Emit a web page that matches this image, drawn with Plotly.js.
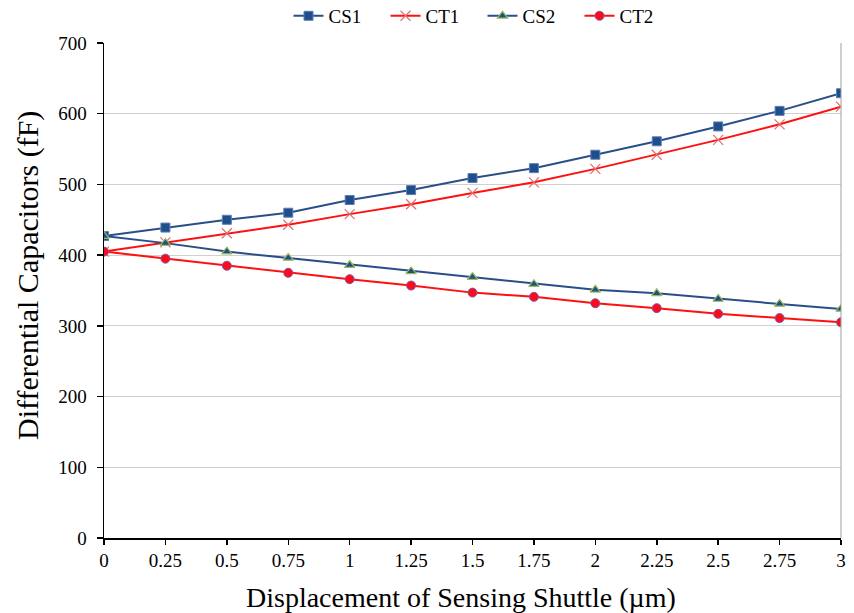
<!DOCTYPE html>
<html>
<head>
<meta charset="utf-8">
<script src="https://cdn.plot.ly/plotly-3.0.1.min.js"></script>
<style>html,body{margin:0;padding:0;background:#fff;}#chart{width:854px;height:613px;}</style>
</head>
<body>
<div id="chart"></div>
<script>
const displacement = [0, 0.25, 0.5, 0.75, 1, 1.25, 1.5, 1.75, 2, 2.25, 2.5, 2.75, 3];
const xTickLabels = ["0", "0.25", "0.5", "0.75", "1", "1.25", "1.5", "1.75", "2", "2.25", "2.5", "2.75", "3"];
const CS1 = [427, 439, 450, 460, 478, 492, 509, 523, 542, 561, 582, 604, 629];
const CT1 = [405, 418, 431, 443, 458, 472, 488, 503, 522, 542, 563, 585, 610];
const CS2 = [427, 417, 405, 396, 386, 377, 369, 359, 351, 346, 338, 331, 324];
const CT2 = [405, 395, 385, 375, 366, 357, 347, 341, 332, 325, 317, 311, 305];
const xTitle = 'Displacement of Sensing Shuttle (µm)';
const yTitle = 'Differential Capacitors (fF)';

const blue = '#2a4f88';
const red = '#ff1010';
const traces = [
  {name: 'CS1', x: displacement, y: CS1, mode: 'lines+markers',
   line: {color: blue, width: 2},
   marker: {symbol: 'square', size: 9, color: '#1f4e8c', line: {color: '#5b7fb5', width: 1}}},
  {name: 'CT1', x: displacement, y: CT1, mode: 'lines+markers',
   line: {color: red, width: 2},
   marker: {symbol: 'x-thin', size: 10, color: '#e07070', line: {color: '#e07070', width: 1.2}}},
  {name: 'CS2', x: displacement, y: CS2, mode: 'lines+markers',
   line: {color: blue, width: 2},
   marker: {symbol: 'triangle-up', size: 9, color: '#1f4e8c', line: {color: '#9bbb59', width: 1.2}}},
  {name: 'CT2', x: displacement, y: CT2, mode: 'lines+markers',
   line: {color: red, width: 2},
   marker: {symbol: 'circle', size: 9, color: '#ff0a1a', line: {color: '#7a5aa8', width: 1}}}
];

const layout = {
  width: 854, height: 613,
  margin: {l: 104, r: 13, t: 43, b: 75},
  paper_bgcolor: '#fff', plot_bgcolor: '#fff',
  font: {family: 'Liberation Serif, Times New Roman, serif', color: '#000', size: 19},
  showlegend: true,
  legend: {orientation: 'h', x: 0.565, xanchor: 'center', xref: 'container',
           y: 0.974, yanchor: 'middle', yref: 'container',
           font: {size: 19}, itemwidth: 30, tracegroupgap: 0,
           entrywidth: 52, entrywidthmode: 'pixels',
           bgcolor: 'rgba(0,0,0,0)'},
  xaxis: {
    range: [0, 3], tickvals: displacement, ticktext: xTickLabels,
    showgrid: false, zeroline: false,
    showline: true, linecolor: '#000', linewidth: 1.5,
    ticks: 'outside', ticklen: 5, tickcolor: '#000', tickwidth: 1.5,
    tickfont: {size: 19}
  },
  yaxis: {
    range: [0, 700], dtick: 100, tick0: 0,
    showgrid: true, gridcolor: '#d0d0d0', gridwidth: 1,
    zeroline: false,
    showline: true, linecolor: '#000', linewidth: 1.5,
    ticks: 'outside', ticklen: 6, tickcolor: '#000', tickwidth: 1.5,
    ticklabelstandoff: 6,
    tickfont: {size: 19}
  },
  annotations: [
    {text: xTitle, xref: 'paper', yref: 'paper', x: 0.4844, y: -0.1192,
     xanchor: 'center', yanchor: 'middle', showarrow: false, font: {size: 28}},
    {text: yTitle, xref: 'paper', yref: 'paper', x: -0.1031, y: 0.5293, textangle: -90,
     xanchor: 'center', yanchor: 'middle', showarrow: false, font: {size: 30}}
  ],
  shapes: [
    {type: 'line', xref: 'paper', yref: 'paper', x0: 1, x1: 1, y0: 0, y1: 1,
     line: {color: '#a0a0a0', width: 1}}
  ]
};

Plotly.newPlot('chart', traces, layout, {displayModeBar: false, staticPlot: true});
</script>
</body>
</html>
